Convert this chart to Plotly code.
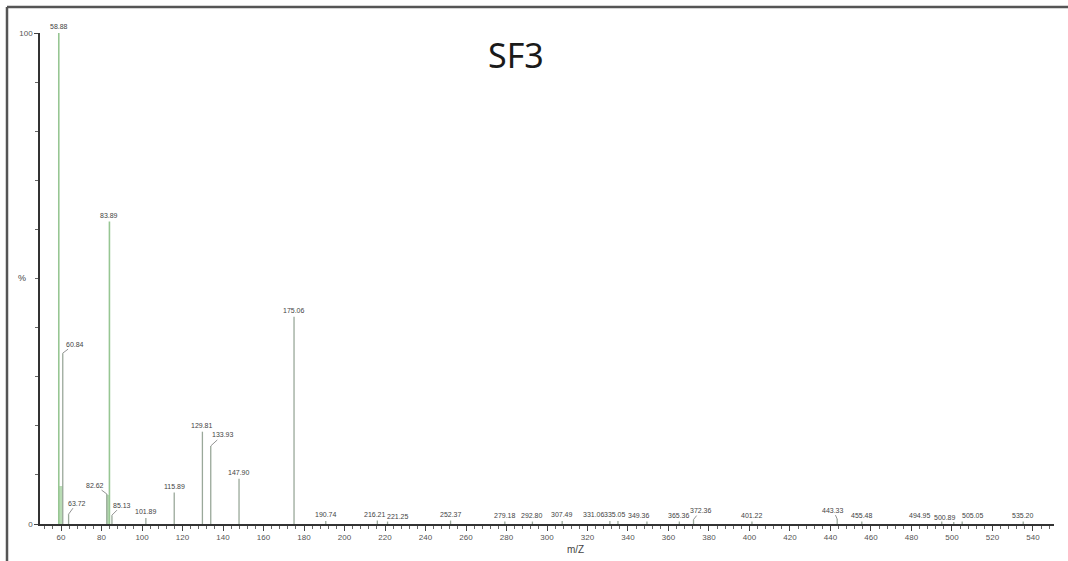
import plotly.graph_objects as go

# Centroided peaks: m/z and relative intensity (%)
peak_mz = [58.88, 60.84, 63.72, 82.62, 83.89, 85.13, 101.89, 115.89, 129.81,
           133.93, 147.90, 175.06, 190.74, 216.21, 221.25, 252.37, 279.18,
           292.80, 307.49, 331.06, 335.05, 349.36, 365.36, 372.36, 401.22,
           443.33, 455.48, 494.95, 500.89, 505.05, 535.20]
peak_int = [100.0, 34.8, 2.0, 6.1, 61.6, 1.8, 1.2, 6.4, 18.8,
            15.9, 9.2, 42.2, 0.6, 0.7, 0.5, 0.7, 0.5,
            0.5, 0.6, 0.6, 0.6, 0.5, 0.5, 0.9, 0.5,
            1.0, 0.5, 0.5, 0.4, 0.5, 0.5]
peak_labels = ["58.88", "60.84", "63.72", "82.62", "83.89", "85.13", "101.89",
               "115.89", "129.81", "133.93", "147.90", "175.06", "190.74",
               "216.21", "221.25", "252.37", "279.18", "292.80", "307.49",
               "331.06", "335.05", "349.36", "365.36", "372.36", "401.22",
               "443.33", "455.48", "494.95", "500.89", "505.05", "535.20"]

# Unresolved ion clusters at the base of the two main peak groups
cluster_mz = [60.0, 83.2]
cluster_int = [7.8, 6.0]

x_ticks = list(range(60, 541, 20))
y_ticks = [0, 100]

W, H = 1068, 561
ML, MR, MT, MB = 40, 14, 33, 37
PW, PH = W - ML - MR, H - MT - MB

green_peaks = {58.88, 83.89}
stem_x, stem_y, gx, gy = [], [], [], []
for m, v in zip(peak_mz, peak_int):
    tx, ty = (gx, gy) if m in green_peaks else (stem_x, stem_y)
    tx += [m, m, None]
    ty += [0, v, None]

fig = go.Figure()
fig.add_trace(go.Bar(x=cluster_mz, y=cluster_int, width=[2.0, 1.8],
                     marker=dict(color="#b9dcb5", line=dict(width=0)),
                     hoverinfo="skip"))
fig.add_trace(go.Scatter(x=stem_x, y=stem_y, mode="lines",
                         line=dict(color="#9aa89a", width=1.3), hoverinfo="skip"))
fig.add_trace(go.Scatter(x=gx, y=gy, mode="lines",
                         line=dict(color="#97c693", width=1.6), hoverinfo="skip"))

# Labels pulled aside with a leader line (pixel offsets)
leader = {"60.84": (12, -9), "63.72": (8, -11), "82.62": (-12, -9),
          "85.13": (10, -10), "133.93": (12, -11), "221.25": (10, -5),
          "372.36": (7, -9), "443.33": (-4, -9), "500.89": (-9, -5)}
# Labels shifted sideways only
xshift = {"216.21": -2, "331.06": -16, "335.05": -3, "349.36": -8,
          "494.95": -22, "505.05": 11}

annotations = []
for m, v, lab in zip(peak_mz, peak_int, peak_labels):
    if lab in leader:
        ax, ay = leader[lab]
        annotations.append(dict(x=m, y=v, xref="x", yref="y", text=lab,
                                showarrow=True, arrowhead=0, arrowwidth=0.8,
                                arrowcolor="#777", ax=ax, ay=ay,
                                font=dict(size=7, color="#444")))
    else:
        annotations.append(dict(x=m, y=v, xref="x", yref="y", text=lab,
                                showarrow=False, yanchor="bottom", yshift=1,
                                xshift=xshift.get(lab, 0),
                                font=dict(size=7, color="#444")))


def px_note(text, px, py, size, family=None, color="#444"):
    font = dict(size=size, color=color)
    if family:
        font["family"] = family
    return dict(x=(px - ML) / PW, y=1 - (py - MT) / PH, xref="paper", yref="paper",
                xanchor="center", yanchor="middle", text=text, showarrow=False,
                font=font)


annotations += [
    px_note("SF3", 516, 55, 34, family="Noto Sans", color="#1a1a1a"),
    px_note("%", 22, 278, 9),
    px_note("m/Z", 575, 549, 10),
]

# Outer frame (top and left edges)
fx0 = (7 - ML) / PW
fy0 = 1 + (MT - 7) / PH
shapes = [
    dict(type="line", xref="paper", yref="paper", x0=fx0, x1=1 + (MR + 20) / PW,
         y0=fy0, y1=fy0, line=dict(color="#555", width=2.5)),
    dict(type="line", xref="paper", yref="paper", x0=fx0, x1=fx0,
         y0=fy0, y1=-(MB + 20) / PH, line=dict(color="#555", width=2.5)),
]

fig.update_layout(
    width=W, height=H,
    margin=dict(l=ML, r=MR, t=MT, b=MB),
    paper_bgcolor="white", plot_bgcolor="white",
    showlegend=False, bargap=0,
    font=dict(family="Liberation Sans", color="#444"),
    annotations=annotations, shapes=shapes,
    xaxis=dict(range=[49.6, 550.4], tickvals=x_ticks, ticks="outside", ticklen=5,
               tickcolor="#444", tickfont=dict(size=8, color="#555"),
               showline=True, linecolor="#333", linewidth=1.5,
               showgrid=False, zeroline=False,
               minor=dict(dtick=4, tick0=0, ticks="outside", ticklen=3, tickcolor="#666")),
    yaxis=dict(range=[0, 100], tickvals=y_ticks, ticks="outside", ticklen=4,
               tickcolor="#444", tickfont=dict(size=8, color="#555"),
               showline=True, linecolor="#333", linewidth=1.5,
               showgrid=False, zeroline=False,
               minor=dict(dtick=10, ticks="outside", ticklen=3, tickcolor="#666")),
)

fig.write_html("out.html")
